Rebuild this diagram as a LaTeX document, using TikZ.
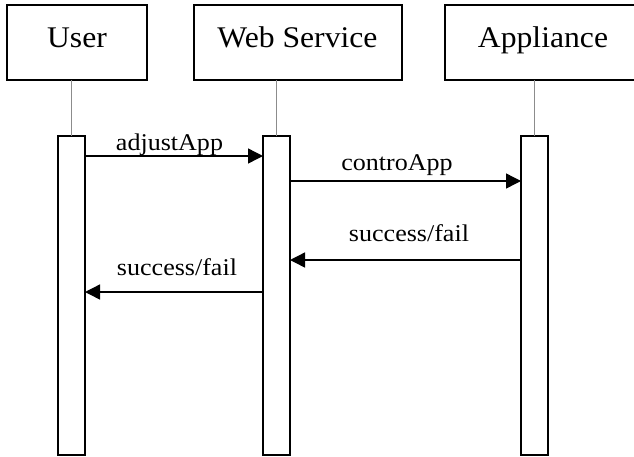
\documentclass[tikz,border=0pt]{standalone}
\usepackage{fontspec}
\setmainfont{Liberation Serif}
\usetikzlibrary{arrows.meta}
% slightly widened lettering
\newcommand\widehead[1]{\scalebox{1.055}[1]{#1}}
\newcommand\widemsg[1]{\scalebox{1.085}[1]{#1}}
\begin{document}
\begin{tikzpicture}[x=1pt,y=-1pt,
  header/.style={draw=black, line width=1.8pt, fill=white, inner sep=0pt, outer sep=0pt, minimum height=75pt},
  headtext/.style={anchor=base, inner sep=0pt, font=\fontsize{30}{30}\selectfont},
  act/.style={draw=black, line width=1.7pt, fill=white, inner sep=0pt, outer sep=0pt, minimum width=27pt, minimum height=319pt},
  life/.style={draw=black!45, line width=0.9pt},
  msg/.style={draw=black, line width=1.4pt, -{Triangle[length=15pt,width=15pt]}},
  msgtext/.style={anchor=base, inner sep=0pt, font=\fontsize{24}{24}\selectfont}]
  \useasboundingbox (0,0) rectangle (634,456);
  \clip (0,0) rectangle (634,456);

  % participant boxes
  \node[header, minimum width=140pt] (user) at (77,42.5) {};
  \node[header, minimum width=208pt] (web) at (298,42.5) {};
  \node[header, minimum width=196pt] (app) at (543,42.5) {};
  \node[headtext] (usert) at (77,47) {\widehead{User}};
  \node[headtext] (webt) at (297.5,47) {\widehead{Web Service}};
  \node[headtext] (appt) at (543,47) {\widehead{Appliance}};

  % activation bars
  \node[act] (ua) at (71.5,295.5) {};
  \node[act] (wa) at (276.5,295.5) {};
  \node[act] (aa) at (534.5,295.5) {};

  % lifelines
  \draw[life] (user.south -| ua.north) -- (ua.north);
  \draw[life] (web.south -| wa.north) -- (wa.north);
  \draw[life] (app.south -| aa.north) -- (aa.north);

  % messages
  \draw[msg] (ua.east |- 0,156) -- (wa.west |- 0,156);
  \node[msgtext] (m1) at (169.5,150.5) {\widemsg{adjustApp}};
  \draw[msg] (wa.east |- 0,181) -- (aa.west |- 0,181);
  \node[msgtext] (m2) at (397,170) {\widemsg{controApp}};
  \draw[msg] (aa.west |- 0,260) -- (wa.east |- 0,260);
  \node[msgtext] (m3) at (409,241) {\widemsg{success/fail}};
  \draw[msg] (wa.west |- 0,292) -- (ua.east |- 0,292);
  \node[msgtext] (m4) at (177,275) {\widemsg{success/fail}};
\end{tikzpicture}
\end{document}
